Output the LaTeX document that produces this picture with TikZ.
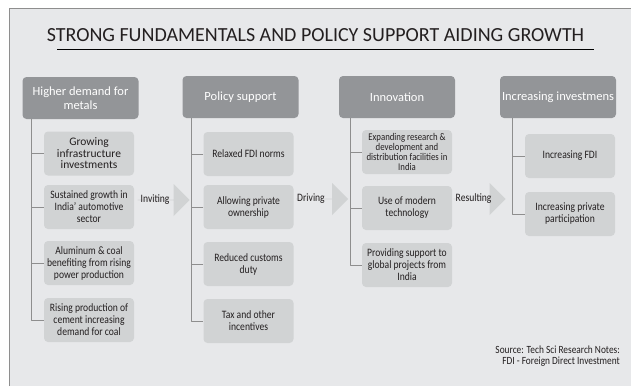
\documentclass[tikz,border=0pt]{standalone}
\usepackage{fontspec}
\setmainfont{Carlito}
\newfontfamily\condfont{Carlito}[FakeStretch=0.85]
\usetikzlibrary{shapes.arrows}
\definecolor{bgray}{HTML}{E7E8EA}
\definecolor{hgray}{HTML}{939598}
\definecolor{cgray}{HTML}{D1D3D4}
\definecolor{lgray}{HTML}{8E8E8E}
\definecolor{tgray}{HTML}{231F20}
\begin{document}
\begin{tikzpicture}[x=1pt,y=-1pt,line join=round,
	hd/.style={fill=hgray,rounded corners=4pt,text=white,align=center,minimum width=116pt,minimum height=42pt,inner sep=1pt,font=\fontsize{12.5}{13.5}\selectfont},
	box/.style={fill=cgray,rounded corners=4pt,text=tgray,align=center,minimum width=90pt,minimum height=44pt,inner sep=1pt},
	nrm/.style={font=\condfont\fontsize{11.3}{12}\selectfont},
	sml/.style={font=\condfont\fontsize{10.3}{10}\selectfont},
	wid/.style={font=\fontsize{11.5}{11.5}\selectfont},
	arr/.style={single arrow,fill=cgray,minimum height=52pt,minimum width=32pt,single arrow head extend=8pt,single arrow tip angle=90,inner sep=0pt},
	lbl/.style={anchor=west,text=tgray,font=\condfont\fontsize{11.3}{12}\selectfont,inner sep=0pt},
	br/.style={draw=lgray,line width=0.9pt}]
	\useasboundingbox (0,0) rectangle (631,386);
	\fill[bgray] (9,8) rectangle (631,386);
	\draw[lgray,line width=1pt] (9,386) |- (631,8);
	\node[text=tgray,font=\fontsize{20}{24}\selectfont,inner sep=0pt] (title) at (315.5,35) {STRONG FUNDAMENTALS AND POLICY SUPPORT AIDING GROWTH};
	\draw[line width=1pt] (57,49) -- (594,49);
	% column heads
	\node[hd] (h1) at (80.5,98) {Higher demand for\\metals};
	\node[hd] (h2) at (240.5,97) {Policy support};
	\node[hd] (h3) at (397,97) {Innovation};
	\node[hd] (h4) at (558,97) {Increasing investmens};
	% boxes under each head
	\foreach \i/\y/\s/\t in {1/153.5/wid/{Growing\\infrastructure\\investments},2/207/nrm/{Sustained growth in\\India’ automotive\\sector},3/263/nrm/{Aluminum \& coal\\benefiting from rising\\power production},4/320/nrm/{Rising production of\\cement increasing\\demand for coal}}{
		\node[box,\s] (c1\i) at (89,\y) {\t};
	}
	\foreach \i/\y/\t in {1/154/{Relaxed FDI norms},2/207/{Allowing private\\ownership},3/264/{Reduced customs\\duty},4/321/{Tax and other\\incentives}}{
		\node[box,nrm] (c2\i) at (248.5,\y) {\t};
	}
	\foreach \i/\y/\s/\t in {1/152/sml/{Expanding research \&\\development and\\distribution facilities in\\India},2/208/nrm/{Use of modern\\technology},3/265/nrm/{Providing support to\\global projects from\\India}}{
		\node[box,\s] (c3\i) at (407,\y) {\t};
	}
	\foreach \i/\y/\t in {1/156/{Increasing FDI},2/214/{Increasing private\\participation}}{
		\node[box,nrm] (c4\i) at (570,\y) {\t};
	}
	% tree lines
	\draw[br] ([xshift=9pt]h1.south west) coordinate (t1) |- (c14.west);
	\draw[br] ([xshift=9pt]h2.south west) coordinate (t2) |- (c24.west);
	\draw[br] ([xshift=12pt]h3.south west) coordinate (t3) |- (c33.west);
	\draw[br] ([xshift=13pt]h4.south west) coordinate (t4) |- (c42.west);
	\foreach \i in {1,2,3}{
		\draw[br] (c1\i.west) -- (c1\i.west -| t1);
		\draw[br] (c2\i.west) -- (c2\i.west -| t2);
	}
	\foreach \i in {1,2}{
		\draw[br] (c3\i.west) -- (c3\i.west -| t3);
	}
	\draw[br] (c41.west) -- (c41.west -| t4);
	% block arrows
	\node[arr] (a1) at (163.5,200) {};
	\node[arr] (a2) at (322,199) {};
	\node[arr] (a3) at (479.5,199) {};
	\node[lbl] (l1) at ([xshift=3pt]a1.tail) {Inviting};
	\node[lbl] (l2) at ([xshift=1pt]a2.tail) {Driving};
	\node[lbl] (l3) at ([xshift=2pt]a3.tail) {Resulting};
	\node[anchor=south east,align=right,text=tgray,font=\condfont\fontsize{11}{11}\selectfont,inner sep=0pt] (src) at (620,367) {Source: Tech Sci Research Notes:\\FDI - Foreign Direct Investment};
\end{tikzpicture}
\end{document}
